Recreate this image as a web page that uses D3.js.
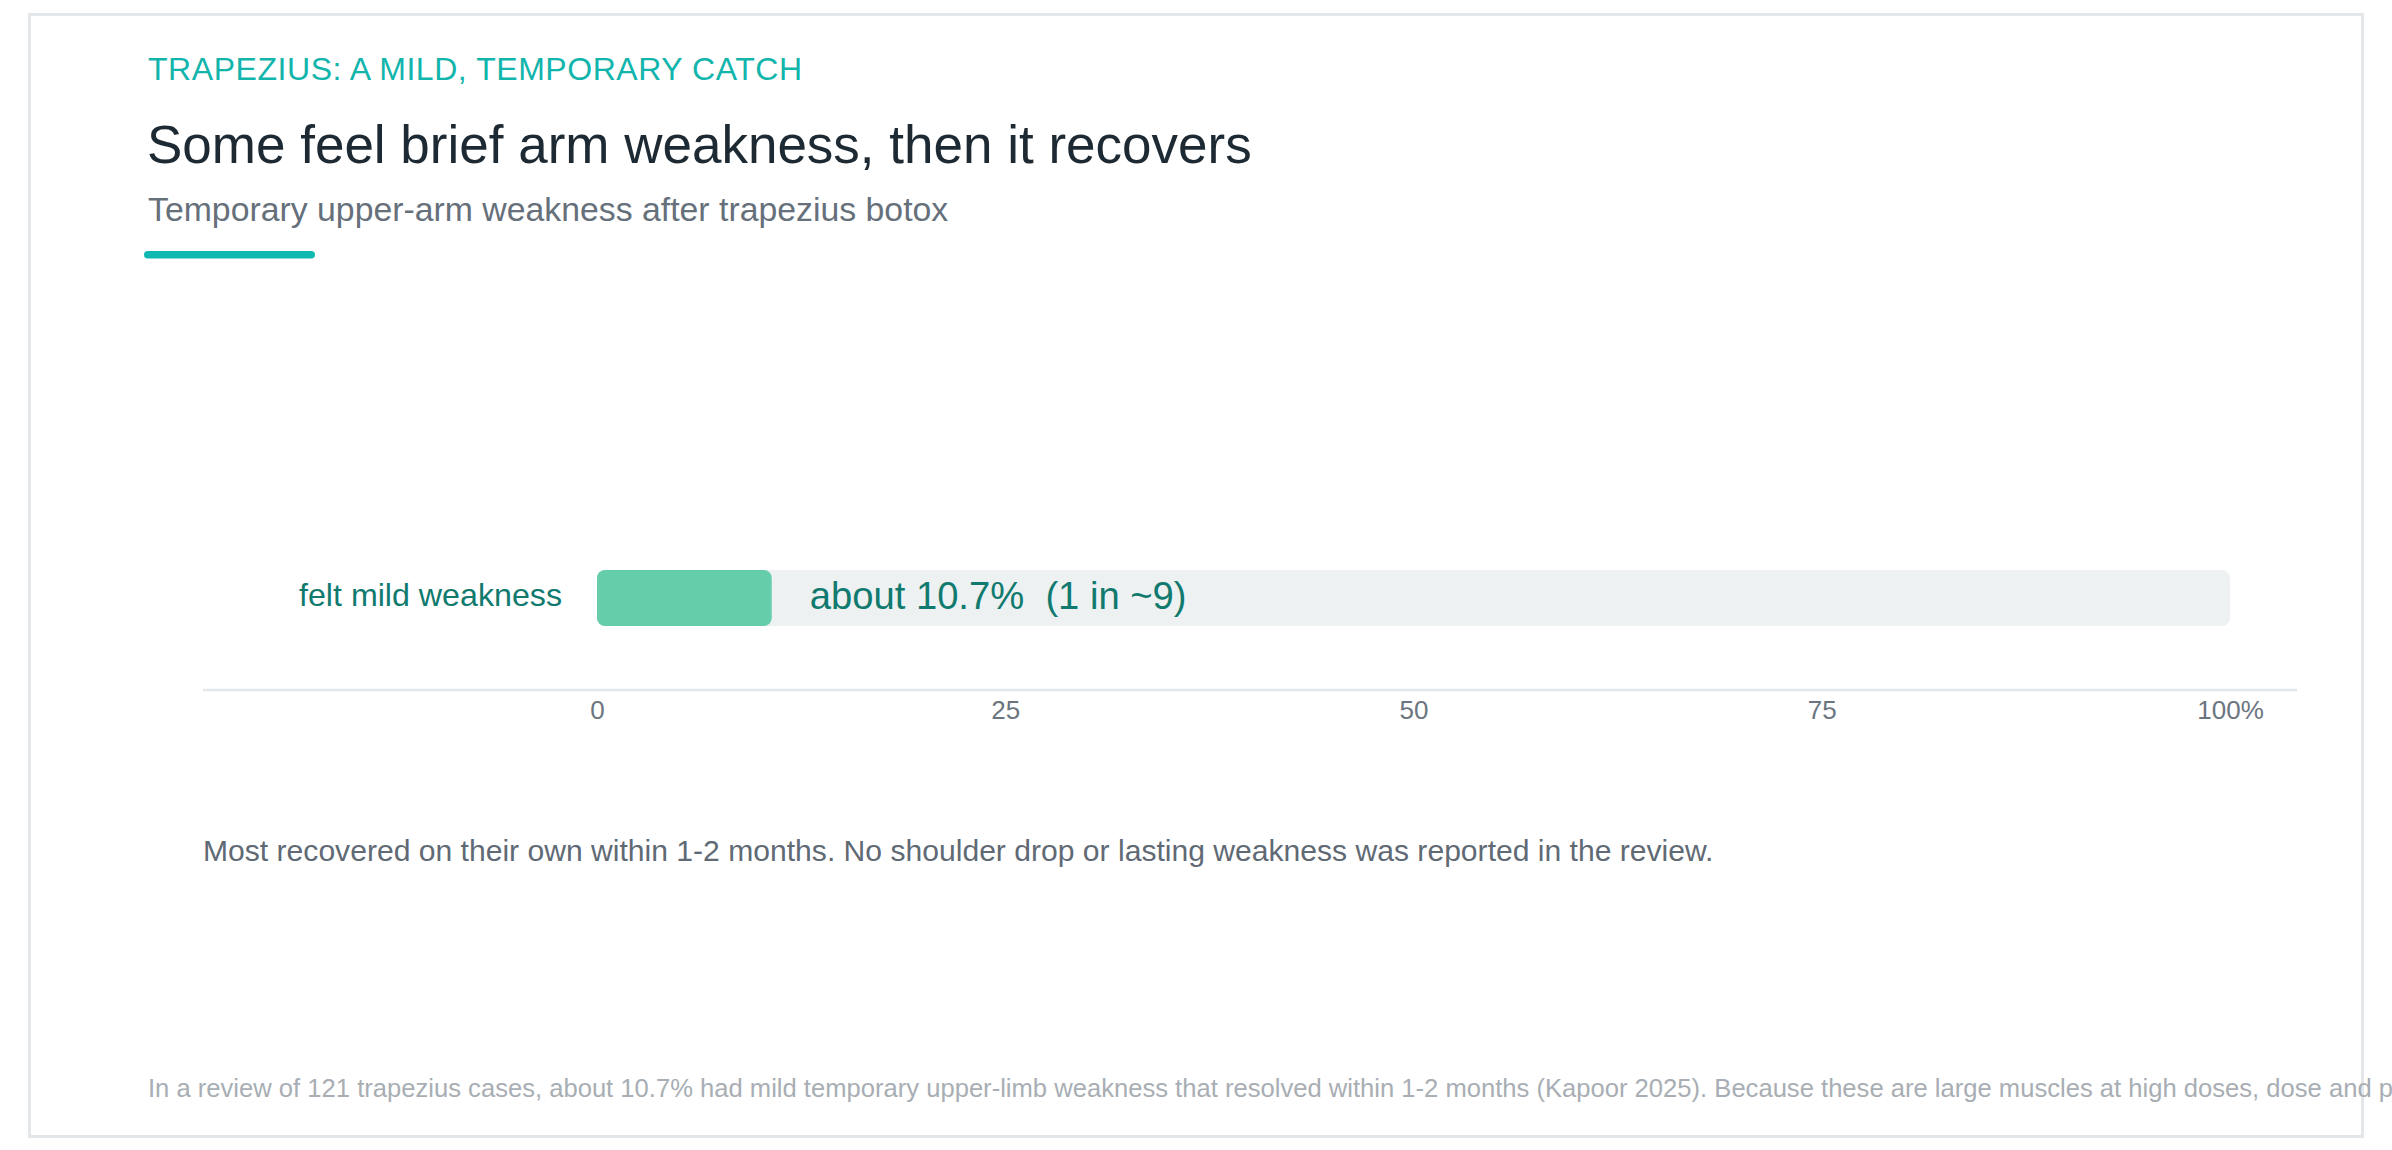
<!DOCTYPE html>
<html>
<head>
<meta charset="utf-8">
<script src="https://cdn.jsdelivr.net/npm/d3@7"></script>
<style>
  body { margin: 0; background: #fff; }
  svg { display: block; font-family: "Liberation Sans", Arial, Helvetica, sans-serif; }
</style>
</head>
<body>
<svg width="2392" height="1150"></svg>
<script>
// chart values
const categories = ['felt mild weakness'];
const values = [10.7];
const valueLabels = ['about 10.7%  (1 in ~9)'];
const tickValues = [0, 25, 50, 75, 100];
const tickLabels = ['0', '25', '50', '75', '100%'];

const kicker = 'TRAPEZIUS: A MILD, TEMPORARY CATCH';
const title = 'Some feel brief arm weakness, then it recovers';
const subtitle = 'Temporary upper-arm weakness after trapezius botox';
const note = 'Most recovered on their own within 1-2 months. No shoulder drop or lasting weakness was reported in the review.';
const footnote = 'In a review of 121 trapezius cases, about 10.7% had mild temporary upper-limb weakness that resolved within 1-2 months (Kapoor 2025). Because these are large muscles at high doses, dose and placement matter.';

var svg = d3.select('svg');

// card outline
svg.append('rect')
    .attr('x', 29.5).attr('y', 14.5)
    .attr('width', 2333).attr('height', 1122)
    .attr('fill', '#fff')
    .attr('stroke', '#e4e7ea')
    .attr('stroke-width', 3);

// header
svg.append('text')
    .attr('x', 148).attr('y', 80)
    .attr('fill', '#12b5ac')
    .style('font-size', '32px')
    .style('letter-spacing', '0.55px')
    .text(kicker);
svg.append('text')
    .attr('x', 147).attr('y', 163)
    .attr('fill', '#1e2a33')
    .style('font-size', '53px')
    .text(title);
svg.append('text')
    .attr('x', 148).attr('y', 221)
    .attr('fill', '#66707b')
    .style('font-size', '33.8px')
    .text(subtitle);
svg.append('rect')
    .attr('x', 144).attr('y', 251)
    .attr('width', 171).attr('height', 7.5)
    .attr('rx', 3.75)
    .attr('fill', '#0fb9b1');

// scales
var x = d3.scaleLinear().domain([0, 100]).range([597, 2230]);
var y = d3.scaleBand().domain(categories).range([570, 626]);

var rows = svg.selectAll('.row')
    .data(categories)
    .enter()
    .append('g')
    .attr('class', 'row');

// background track
rows.append('rect')
    .attr('x', x(0))
    .attr('y', d => y(d))
    .attr('width', x(100) - x(0))
    .attr('height', y.bandwidth())
    .attr('rx', 8)
    .attr('fill', '#edf1f2');

// value bar
rows.append('rect')
    .attr('x', x(0))
    .attr('y', d => y(d))
    .attr('width', (d, i) => x(values[i]) - x(0))
    .attr('height', y.bandwidth())
    .attr('rx', 8)
    .attr('fill', '#66cdaa');

// category label
rows.append('text')
    .attr('x', x(0) - 35)
    .attr('y', d => y(d) + y.bandwidth() / 2 + 7.5)
    .attr('text-anchor', 'end')
    .attr('fill', '#117a6f')
    .style('font-size', '32.2px')
    .text(d => d);

// value label
rows.append('text')
    .attr('x', (d, i) => x(values[i]) + 38)
    .attr('y', d => y(d) + y.bandwidth() / 2 + 10.5)
    .attr('fill', '#117a6f')
    .style('font-size', '38.2px')
    .style('white-space', 'pre')
    .text((d, i) => valueLabels[i]);

// axis
svg.append('line')
    .attr('x1', 203).attr('x2', 2297)
    .attr('y1', 690).attr('y2', 690)
    .attr('stroke', '#e4e7ea')
    .attr('stroke-width', 2.5);

var axis = svg.append('g')
    .attr('transform', 'translate(0,690)')
    .call(d3.axisBottom(x)
        .tickValues(tickValues)
        .tickFormat((d, i) => tickLabels[i])
        .tickSize(0)
        .tickPadding(11));
axis.select('.domain').remove();
axis.selectAll('text')
    .attr('fill', '#6b7580')
    .style('font-size', '26px')
    .style('font-family', '"Liberation Sans", Arial, sans-serif');

// notes
svg.append('text')
    .attr('x', 203).attr('y', 861)
    .attr('fill', '#5f6a75')
    .style('font-size', '30.1px')
    .text(note);
svg.append('text')
    .attr('x', 148).attr('y', 1097)
    .attr('fill', '#a8aeb4')
    .style('font-size', '25.6px')
    .text(footnote);
</script>
</body>
</html>
